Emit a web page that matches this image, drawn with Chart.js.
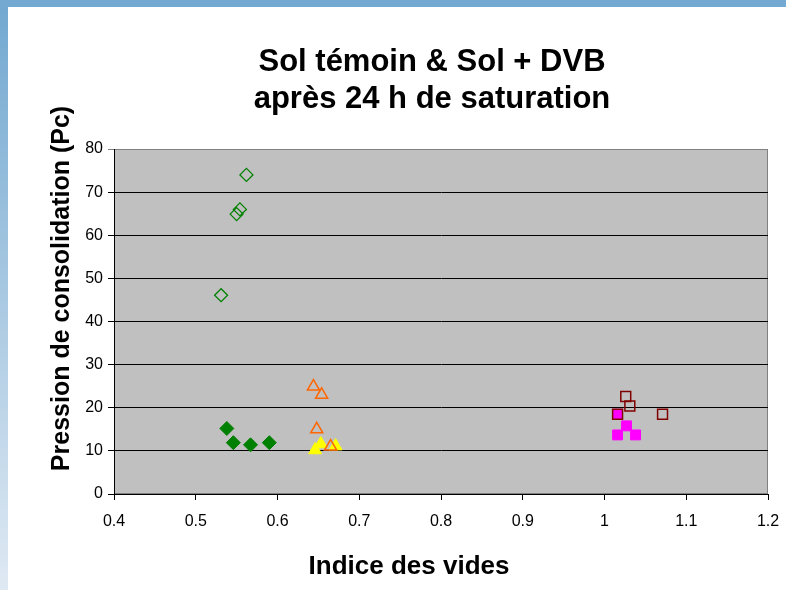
<!DOCTYPE html>
<html>
<head>
<meta charset="utf-8">
<script src="https://cdn.jsdelivr.net/npm/chart.js@4.4.0/dist/chart.umd.min.js"></script>
<style>
  html, body { margin: 0; padding: 0; background: #fff; }
  #wrap { width: 786px; height: 590px; }
</style>
</head>
<body>
<div id="wrap"><canvas id="chart" width="786" height="590"></canvas></div>
<script>
const titleLines = ['Sol témoin & Sol + DVB', 'après 24 h de saturation'];
const xTitle = 'Indice des vides';
const yTitle = 'Pression de consolidation (Pc)';

const xTicks = [0.4, 0.5, 0.6, 0.7, 0.8, 0.9, 1.0, 1.1, 1.2];
const yTicks = [0, 10, 20, 30, 40, 50, 60, 70, 80];

// open green diamonds
const diamOpenX = [0.562, 0.554, 0.550, 0.531];
const diamOpenY = [74.0, 66.0, 64.9, 46.1];
// filled green diamonds
const diamFullX = [0.538, 0.546, 0.567, 0.590];
const diamFullY = [15.2, 11.9, 11.4, 11.9];
// open orange triangles
const triOpenX = [0.644, 0.654, 0.648, 0.665];
const triOpenY = [24.9, 23.0, 15.0, 11.0];
// filled yellow triangles
const triFullX = [0.646, 0.653, 0.671];
const triFullY = [10.2, 11.6, 11.1];
// open dark red squares
const sqOpenX = [1.026, 1.031, 1.016, 1.071];
const sqOpenY = [22.6, 20.4, 18.5, 18.5];
// filled magenta squares
const sqFullX = [1.016, 1.027, 1.016, 1.038];
const sqFullY = [18.5, 15.8, 13.7, 13.7];

function pts(xs, ys) {
    return xs.map((x, i) => ({ x: x, y: ys[i] }));
}

const font = "'Liberation Sans', Arial, sans-serif";

// blue frame, grey plot area, titles
const frame = {
    id: 'frame',
    beforeDraw(chart) {
        const { ctx, chartArea: a, width, height } = chart;
        ctx.save();
        ctx.fillStyle = '#fff';
        ctx.fillRect(0, 0, width, height);
        const g = ctx.createLinearGradient(0, 0, 0, height);
        g.addColorStop(0, '#72a8d0');
        g.addColorStop(1, '#dfe9f3');
        ctx.fillStyle = g;
        ctx.fillRect(0, 0, 8, height);
        ctx.fillStyle = '#74aad1';
        ctx.fillRect(0, 0, width, 7);
        ctx.fillStyle = '#c0c0c0';
        ctx.fillRect(a.left, a.top, a.right - a.left, a.bottom - a.top);
        ctx.strokeStyle = '#808080';
        ctx.lineWidth = 1;
        ctx.strokeRect(a.left + 0.5, a.top + 0.5, a.right - a.left - 1, a.bottom - a.top - 1);
        ctx.restore();
    },
    afterDraw(chart) {
        const { ctx, chartArea: a } = chart;
        ctx.save();
        ctx.fillStyle = '#000';
        ctx.textAlign = 'center';
        ctx.textBaseline = 'middle';
        ctx.font = 'bold 31px ' + font;
        const cx = (a.left + a.right) / 2 - 9;
        titleLines.forEach((t, i) => ctx.fillText(t, cx, 62 + i * 37));
        ctx.font = 'bold 26px ' + font;
        ctx.fillText(xTitle, (a.left + a.right) / 2 - 32, 567);
        ctx.font = 'bold 25px ' + font;
        ctx.translate(62, (a.top + a.bottom) / 2 - 33);
        ctx.rotate(-Math.PI / 2);
        ctx.fillText(yTitle, 0, 0);
        ctx.restore();
    }
};

new Chart(document.getElementById('chart'), {
    type: 'scatter',
    data: {
        datasets: [
            { data: pts(diamOpenX, diamOpenY), pointStyle: 'rectRot', radius: 6.5, borderColor: '#008000', backgroundColor: 'rgba(0,0,0,0)', borderWidth: 1.3 },
            { data: pts(diamFullX, diamFullY), pointStyle: 'rectRot', radius: 7, borderColor: '#008000', backgroundColor: '#008000', borderWidth: 1 },
            { data: pts(triOpenX, triOpenY), pointStyle: 'triangle', radius: 7, borderColor: '#ff6600', backgroundColor: 'rgba(0,0,0,0)', borderWidth: 1.5 },
            { data: pts(triFullX, triFullY), pointStyle: 'triangle', radius: 7.5, borderColor: '#ffff00', backgroundColor: '#ffff00', borderWidth: 1 },
            { data: pts(sqOpenX, sqOpenY), pointStyle: 'rect', radius: 7, borderColor: '#800000', backgroundColor: 'rgba(0,0,0,0)', borderWidth: 1.5 },
            { data: pts(sqFullX, sqFullY), pointStyle: 'rect', radius: 7, borderColor: '#ff00ff', backgroundColor: '#ff00ff', borderWidth: 1 }
        ]
    },
    options: {
        responsive: false,
        animation: false,
        events: [],
        layout: {
            padding: { left: 10, right: 18, top: 149, bottom: 0 }
        },
        plugins: {
            legend: { display: false },
            tooltip: { enabled: false }
        },
        scales: {
            x: {
                type: 'linear',
                min: 0.4,
                max: 1.2,
                afterBuildTicks: scale => { scale.ticks = xTicks.map(v => ({ value: v })); },
                afterFit: scale => { scale.height = 96; scale.paddingRight = 0; scale.paddingLeft = 0; },
                ticks: {
                    color: '#000',
                    font: { family: font, size: 16 },
                    padding: 12,
                    maxRotation: 0,
                    callback: v => String(Number(v.toFixed(1)))
                },
                grid: { drawOnChartArea: false, color: '#000', tickLength: 6 },
                border: { color: '#000', width: 1 }
            },
            y: {
                type: 'linear',
                min: 0,
                max: 80,
                afterBuildTicks: scale => { scale.ticks = yTicks.map(v => ({ value: v })); },
                afterFit: scale => { scale.width = 104; scale.paddingTop = 0; scale.paddingBottom = 0; },
                ticks: {
                    color: '#000',
                    font: { family: font, size: 16 },
                    padding: 5
                },
                grid: {
                    color: ctx => ctx.tick && ctx.tick.value === 80 ? '#808080' : '#000',
                    tickLength: 6
                },
                border: { color: '#000', width: 1 }
            }
        }
    },
    plugins: [frame]
});
</script>
</body>
</html>
